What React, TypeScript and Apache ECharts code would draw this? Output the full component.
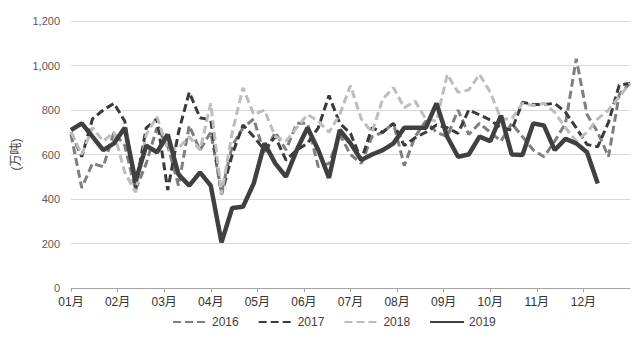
import React, { useEffect, useRef } from "react";
import * as echarts from "echarts";

const monthLabels = ["01月", "02月", "03月", "04月", "05月", "06月", "07月", "08月", "09月", "10月", "11月", "12月"];
const seriesNames = ["2016", "2017", "2018", "2019"];

const data2016 = [690, 450, 560, 545, 700, 640, 440, 560, 720, 640, 460, 730, 620, 700, 430, 640, 720, 760, 600, 700, 620, 740, 740, 545, 560, 690, 600, 560, 680, 700, 740, 550, 680, 750, 700, 680, 800, 690, 740, 700, 660, 740, 680, 620, 590, 660, 740, 1030, 780, 700, 590, 870, 920];
const data2017 = [700, 590, 760, 800, 830, 750, 450, 720, 760, 440, 700, 880, 765, 755, 420, 600, 733, 680, 620, 680, 575, 620, 650, 720, 865, 740, 695, 575, 720, 700, 740, 640, 675, 700, 733, 720, 695, 800, 778, 755, 720, 710, 835, 825, 825, 830, 790, 720, 645, 635, 745, 912, 920];
const data2018 = [700, 600, 720, 660, 700, 520, 430, 690, 770, 620, 630, 680, 620, 830, 420, 700, 900, 780, 800, 680, 660, 720, 780, 750, 700, 780, 910, 760, 700, 850, 900, 810, 840, 760, 750, 960, 880, 890, 960, 880, 760, 760, 830, 820, 830, 790, 720, 660, 700, 760, 800, 860, 920];
const data2019 = [710, 740, 680, 620, 650, 720, 480, 640, 610, 690, 510, 460, 520, 460, 205, 360, 365, 470, 650, 560, 500, 620, 720, 620, 495, 710, 650, 575, 600, 620, 650, 720, 720, 720, 830, 680, 590, 600, 680, 660, 775, 600, 598, 740, 730, 620, 670, 650, 610, 470];

const WEEKS = 52;
const FONT = "'Liberation Sans', Arial, 'Noto Sans CJK SC', sans-serif";

const toPairs = (arr: number[]) => arr.map((v, i) => [i, v]);

export default function App() {
  const ref = useRef<HTMLDivElement>(null);
  useEffect(() => {
    if (!ref.current) return;
    const chart = echarts.init(ref.current, undefined, { renderer: "svg" });
    const dashed = [8, 4];
    const styles = [
      { color: "#7f7f7f", width: 3, type: dashed },
      { color: "#3a3a3a", width: 3, type: dashed },
      { color: "#bdbdbd", width: 3, type: dashed },
      { color: "#404040", width: 4.5, type: "solid" },
    ];
    const datasets = [data2016, data2017, data2018, data2019];
    chart.setOption({
      animation: false,
      backgroundColor: "#ffffff",
      grid: { left: 71, right: 12, top: 21, bottom: 74, containLabel: false },
      legend: {
        top: 311,
        left: 167,
        itemWidth: 34,
        itemHeight: 12,
        itemGap: 19,
        itemStyle: { opacity: 0 },
        textStyle: { fontFamily: FONT, fontSize: 12, color: "#404040" },
        data: seriesNames,
      },
      xAxis: {
        type: "value",
        min: 0,
        max: WEEKS,
        interval: WEEKS / 12,
        axisLine: { lineStyle: { color: "#a6a6a6", width: 1 } },
        axisTick: { show: true, length: 4, lineStyle: { color: "#a6a6a6" } },
        splitLine: { show: false },
        axisLabel: {
          fontFamily: FONT,
          fontSize: 12,
          color: "#333333",
          margin: 8,
          showMaxLabel: false,
          formatter: (v: number) => {
            const idx = Math.round((v * 12) / WEEKS);
            return idx < 12 ? monthLabels[idx] : "";
          },
        },
      },
      yAxis: {
        type: "value",
        min: 0,
        max: 1200,
        interval: 200,
        name: "(万吨)",
        nameLocation: "middle",
        nameRotate: 90,
        nameGap: 44,
        nameTextStyle: { fontFamily: FONT, fontSize: 12, color: "#404040" },
        axisLine: { show: false },
        axisTick: { show: false },
        splitLine: { lineStyle: { color: "#d9d9d9", width: 1 } },
        axisLabel: {
          fontFamily: FONT,
          fontSize: 11,
          color: "#595959",
          margin: 11,
          formatter: (v: number) => v.toLocaleString("en-US"),
        },
      },
      series: seriesNames.map((name, k) => ({
        name,
        type: "line",
        data: toPairs(datasets[k]),
        symbol: "none",
        showSymbol: false,
        lineStyle: styles[k],
        itemStyle: { color: styles[k].color },
        z: k === 3 ? 5 : 2 + k,
      })),
    });
    return () => chart.dispose();
  }, []);
  return (
    <div
      ref={ref}
      style={{ position: "absolute", left: 0, top: 0, width: 642, height: 362 }}
    />
  );
}
